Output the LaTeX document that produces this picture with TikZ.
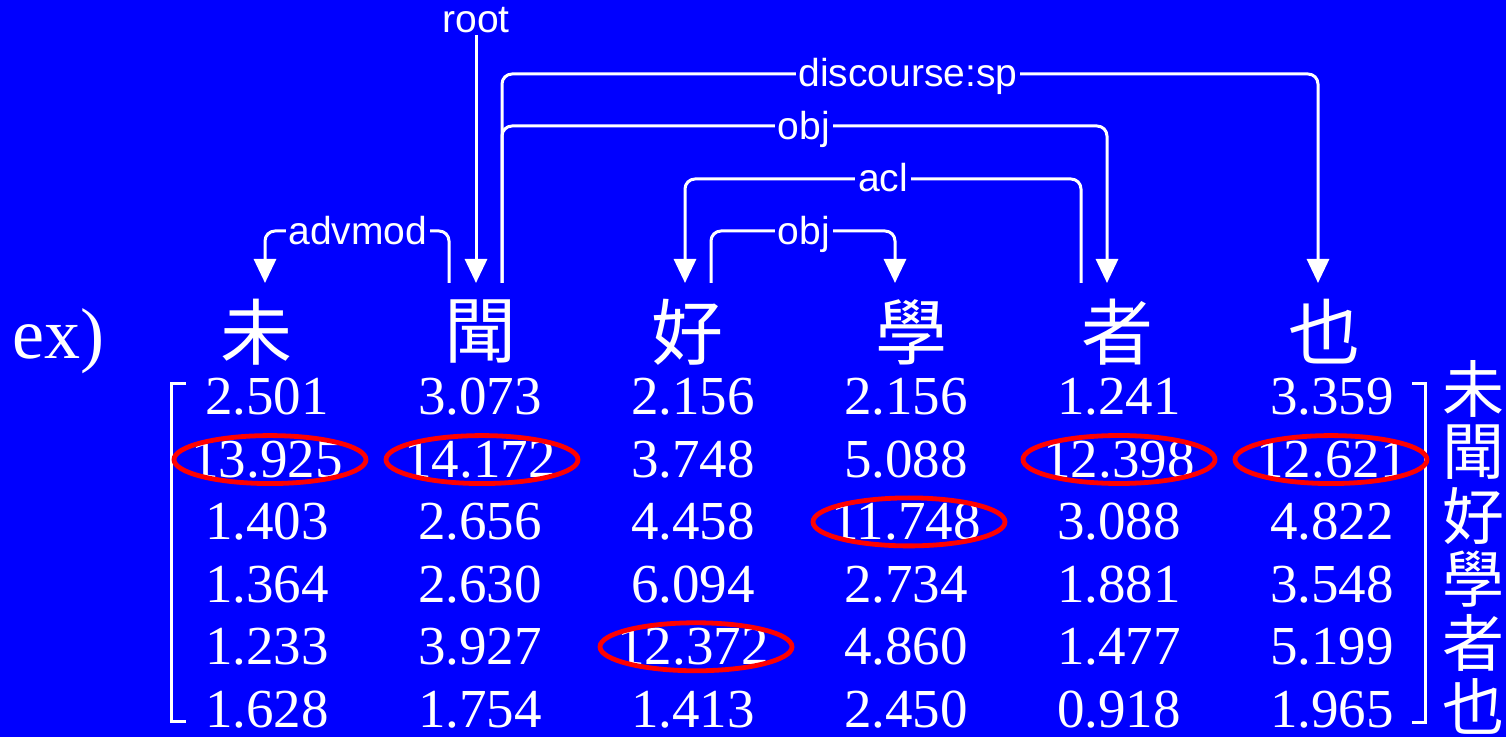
\documentclass[tikz,border=0pt]{standalone}
\usepackage{fontspec}
\setmainfont{Liberation Serif}
\newfontfamily\lblfont{Liberation Sans}
\newfontfamily\cjkfont{Noto Sans CJK TC}
\usetikzlibrary{arrows.meta}
\definecolor{bgblue}{RGB}{0,0,255}
\definecolor{hlred}{RGB}{255,0,0}
\begin{document}
\begin{tikzpicture}[x=0.5pt,y=-0.5pt,
  edge/.style={draw=white,line width=1.5pt,rounded corners=5pt},
  tip/.style={-{Triangle[width=11pt,length=12pt]}},
  lbl/.style={font=\lblfont\fontsize{19.5}{20}\selectfont,text=white,fill=bgblue,inner xsep=1.5pt,inner ysep=0.5pt,anchor=base},
  word/.style={font=\cjkfont\fontsize{36}{40}\selectfont,text=white,inner sep=0pt},
  num/.style={font=\fontsize{27.5}{30}\selectfont,text=white,inner sep=0pt,anchor=base},
  side/.style={font=\cjkfont\fontsize{31}{32}\selectfont,text=white,inner sep=0pt},
  hl/.style={draw=hlred,line width=2.4pt},
  brk/.style={draw=white,line width=1.5pt}]
\fill[bgblue] (0,0) rectangle (1506,737);
\useasboundingbox (0,0) rectangle (1506,737);

% words
\node[font=\fontsize{36}{40}\selectfont,text=white,anchor=base west,inner sep=0pt] (ex) at (12,359) {ex)};
\node[word] (w1) at (256,332) {未};
\node[word] (w2) at (480,332) {聞};
\node[word] (w3) at (687,332) {好};
\node[word] (w4) at (911,332) {學};
\node[word] (w5) at (1117,332) {者};
\node[word] (w6) at (1324,332) {也};

% connector end points above the words
\coordinate (w1in) at (265,283);
\coordinate (w2a) at (449,283);
\coordinate (w2in) at (476,283);
\coordinate (w2b) at (502,283);
\coordinate (w3in) at (685,283);
\coordinate (w3a) at (711,283);
\coordinate (w4in) at (895,283);
\coordinate (w5a) at (1081,283);
\coordinate (w5in) at (1107,283);
\coordinate (w6in) at (1318,283);

% levels
\coordinate (lvdisc) at (908,74);
\coordinate (lvobja) at (804,126);
\coordinate (lvacl) at (883,179);
\coordinate (lvobjb) at (804,231);
\coordinate (lvadv) at (358,231);

% root
\node[lbl,fill=none] (rootlbl) at (476,33) {root};
\draw[edge,tip] (rootlbl.south) -- (w2in);

% arcs
\draw[edge,tip] (w2a) |- (lvadv) -| (w1in);
\draw[edge,tip] (w2b) |- (lvdisc) -| (w6in);
\draw[edge,tip] (w2b) |- (lvobja) -| (w5in);
\draw[edge,tip] (w5a) |- (lvacl) -| (w3in);
\draw[edge,tip] (w3a) |- (lvobjb) -| (w4in);

\node[lbl] (ladv) at (358,245) {advmod};
\node[lbl] (ldisc) at (908,87) {discourse:sp};
\node[lbl] (lobja) at (804,140) {obj};
\node[lbl] (lacl) at (883,192) {acl};
\node[lbl] (lobjb) at (804,245) {obj};

% matrix
\foreach \r/\vals in {1/{2.501,3.073,2.156,2.156,1.241,3.359},
                      2/{13.925,14.172,3.748,5.088,12.398,12.621},
                      3/{1.403,2.656,4.458,11.748,3.088,4.822},
                      4/{1.364,2.630,6.094,2.734,1.881,3.548},
                      5/{1.233,3.927,12.372,4.860,1.477,5.199},
                      6/{1.628,1.754,1.413,2.450,0.918,1.965}}{
  \foreach \v [count=\c] in \vals {
    \node[num] (n\r\c) at ({267+213*(\c-1)},{415+62.4*(\r-1)}) {\v};
  }
}

% brackets
\draw[brk] (186,384) -- (171,384) -- (171,721) -- (186,721);
\draw[brk] (1412,384) -- (1425,384) -- (1425,722) -- (1412,722);

% side words
\foreach \ch [count=\i] in {未,聞,好,學,者,也}
  \node[side] (s\i) at (1473,{389+63.4*(\i-1)}) {\ch};

% highlights
\draw[hl] ([xshift=1.5pt]n21.center) ellipse [x radius=48pt, y radius=12pt];
\draw[hl] ([xshift=1pt]n22.center) ellipse [x radius=48pt, y radius=12pt];
\draw[hl] ([xshift=1.5pt]n53.center) ellipse [x radius=48pt, y radius=12pt];
\draw[hl] ([xshift=1.5pt]n34.center) ellipse [x radius=48pt, y radius=12pt];
\draw[hl] ([xshift=0pt]n25.center) ellipse [x radius=48pt, y radius=12pt];
\draw[hl] ([xshift=-0.5pt]n26.center) ellipse [x radius=48pt, y radius=12pt];
\end{tikzpicture}
\end{document}
